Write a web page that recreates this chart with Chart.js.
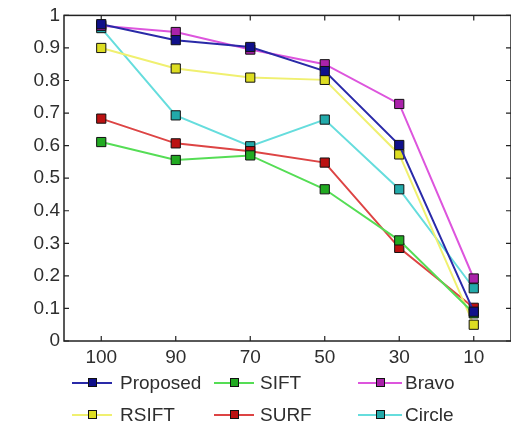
<!DOCTYPE html>
<html>
<head>
<meta charset="utf-8">
<script src="https://cdn.jsdelivr.net/npm/chart.js@4"></script>
<style>
  body { margin: 0; background: #fff; }
  .wrap { position: relative; width: 511px; height: 430px; overflow: hidden; }
  .legend-item { position: absolute; height: 20px; font-family: "Liberation Sans", Arial, sans-serif; font-size: 19px; color: #2e2e2e; }
  .legend-item .ln { position: absolute; top: 9px; height: 2px; }
  .legend-item .mk { position: absolute; top: 5px; width: 7px; height: 7px; border: 1px solid #111; box-sizing: content-box; }
  .legend-item .tx { position: absolute; top: 0; line-height: 20px; white-space: nowrap; }
</style>
</head>
<body>
<div class="wrap">
  <canvas id="chart" width="511" height="430"></canvas>
  <div id="legend"></div>
</div>
<script>
// x categories and y tick labels
const categories = ['100', '90', '70', '50', '30', '10']
const yTickLabels = ['0', '0.1', '0.2', '0.3', '0.4', '0.5', '0.6', '0.7', '0.8', '0.9', '1']

// series
const proposed = [0.973, 0.924, 0.903, 0.829, 0.602, 0.090]
const sift = [0.611, 0.556, 0.570, 0.466, 0.309, 0.085]
const bravo = [0.968, 0.949, 0.895, 0.850, 0.728, 0.192]
const rsift = [0.900, 0.837, 0.809, 0.802, 0.573, 0.050]
const surf = [0.683, 0.607, 0.583, 0.548, 0.286, 0.102]
const circle = [0.961, 0.693, 0.598, 0.680, 0.466, 0.162]

const seriesNames = ['Proposed', 'SIFT', 'Bravo', 'RSIFT', 'SURF', 'Circle']
const seriesData = [proposed, sift, bravo, rsift, surf, circle]
const lineColors = ['#2a2aa8', '#55dd55', '#dd55dd', '#f0f070', '#dd4444', '#66dddd']
const markColors = ['#10108a', '#22aa22', '#aa22aa', '#dddd22', '#bb1111', '#22aaaa']

// legend placement: [line start, line end, text x, row y]
const legendSpots = [
    [72, 112, 120, 373], [214, 254, 260, 373], [358, 402, 405, 373],
    [72, 112, 120, 405], [214, 254, 260, 405], [358, 402, 405, 405]
]

const fontSpec = { family: '"Liberation Sans", Arial, sans-serif', size: 19 }

const axisBox = {
    id: 'axisBox',
    beforeDatasetsDraw(chart) {
        const { ctx, chartArea: a, scales } = chart
        ctx.save()
        ctx.strokeStyle = '#222'
        ctx.lineWidth = 1.5
        ctx.strokeRect(a.left, a.top, a.right - a.left, a.bottom - a.top)
        ctx.lineWidth = 1.2
        ctx.beginPath()
        scales.y.ticks.forEach(t => {
            const y = scales.y.getPixelForValue(t.value)
            ctx.moveTo(a.left, y); ctx.lineTo(a.left + 5, y)
            ctx.moveTo(a.right, y); ctx.lineTo(a.right - 5, y)
        })
        scales.x.ticks.forEach((t, i) => {
            const x = scales.x.getPixelForTick(i)
            ctx.moveTo(x, a.bottom); ctx.lineTo(x, a.bottom - 5)
            ctx.moveTo(x, a.top); ctx.lineTo(x, a.top + 5)
        })
        ctx.stroke()
        ctx.restore()
    }
}

const mychart = new Chart(document.getElementById('chart').getContext('2d'), {
    type: 'line',
    data: {
        labels: categories,
        datasets: seriesData.map((d, i) => ({
            label: seriesNames[i],
            data: d,
            borderColor: lineColors[i],
            borderWidth: 2,
            pointStyle: 'rect',
            pointRadius: 6.5,
            pointBackgroundColor: markColors[i],
            pointBorderColor: '#111',
            pointBorderWidth: 1,
            tension: 0
        }))
    },
    options: {
        responsive: false,
        animation: false,
        devicePixelRatio: 1,
        layout: { autoPadding: false, padding: { top: 15, right: -2, left: 0, bottom: 0 } },
        scales: {
            x: {
                offset: true,
                grid: { display: false, drawTicks: false },
                border: { display: false },
                ticks: { color: '#2e2e2e', font: fontSpec, padding: 5, maxRotation: 0 },
                afterFit: s => { s.height = 89 }
            },
            y: {
                min: 0,
                max: 1,
                grid: { display: false, drawTicks: false },
                border: { display: false },
                ticks: {
                    stepSize: 0.1,
                    color: '#2e2e2e',
                    font: fontSpec,
                    padding: 4,
                    callback: (v, i) => yTickLabels[i]
                },
                afterFit: s => { s.width = 64 }
            }
        },
        plugins: {
            legend: { display: false },
            tooltip: { enabled: false }
        }
    },
    plugins: [axisBox]
})

// html legend built from the series
document.getElementById('legend').innerHTML = seriesNames.map((name, i) => {
    const [x0, x1, tx, y] = legendSpots[i]
    const mid = (x0 + x1) / 2
    return `<div class="legend-item" style="left:0;top:${y}px;width:511px">
        <div class="ln" style="left:${x0}px;width:${x1 - x0}px;background:${lineColors[i]}"></div>
        <div class="mk" style="left:${mid - 4.5}px;background:${markColors[i]}"></div>
        <div class="tx" style="left:${tx}px">${name}</div>
    </div>`
}).join('')
</script>
</body>
</html>
